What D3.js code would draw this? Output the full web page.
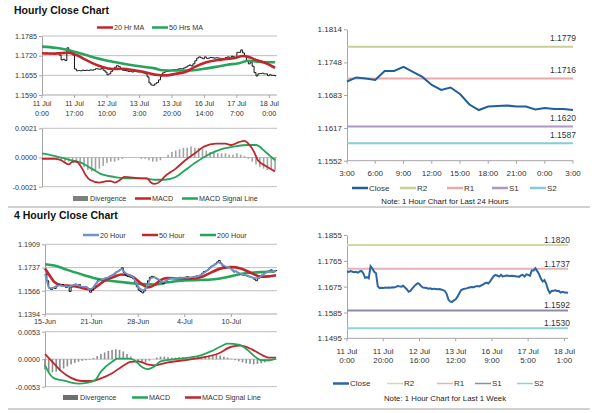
<!DOCTYPE html>
<html>
<head>
<meta charset="utf-8">
<script src="https://cdn.jsdelivr.net/npm/d3@7"></script>
<style>
  body { margin: 0; background: #fff; }
  svg { font-family: "Liberation Sans", Arial, sans-serif; }
  .axis path, .axis line { stroke: #a6a6a6; }
  .axis text { fill: #333; }
</style>
</head>
<body>
<div id="chart"></div>
<script>
// hourly close, 11 Jul 0:00 -> 18 Jul 3:00 (one value per hour bar)
var hourlyClose = [
  1.1728,1.1726,1.1729,1.1727,1.1725,1.1727,1.1724,1.1728,1.1730,1.1722,
  1.1706,1.1708,1.1704,1.1746,1.1738,1.1727,1.1722,1.1676,1.1670,1.1671,
  1.1670,1.1672,1.1671,1.1672,1.1671,1.1673,1.1672,1.1674,1.1677,1.1676,
  1.1675,1.1678,1.1672,1.1666,1.1657,1.1660,1.1668,1.1676,1.1682,1.1687,
  1.1684,1.1676,1.1672,1.1671,1.1670,1.1668,1.1669,1.1666,1.1668,1.1667,
  1.1666,1.1667,1.1665,1.1663,1.1660,1.1650,1.1630,1.1623,1.1622,1.1627,
  1.1631,1.1640,1.1652,1.1663,1.1666,1.1668,1.1669,1.1671,1.1673,1.1674,
  1.1673,1.1676,1.1677,1.1676,1.1679,1.1682,1.1686,1.1689,1.1686,1.1693,
  1.1703,1.1712,1.1716,1.1713,1.1710,1.1716,1.1711,1.1712,1.1714,1.1713,
  1.1712,1.1713,1.1712,1.1711,1.1710,1.1709,1.1714,1.1716,1.1710,1.1718,
  1.1716,1.1713,1.1731,1.1731,1.1739,1.1729,1.1719,1.1703,1.1693,1.1698,
  1.1685,1.1664,1.1653,1.1660,1.1661,1.1662,1.1660,1.1660,1.1654,1.1657,
  1.1655,1.1655,1.1653
];
var hourlyTicks = [0, 17, 34, 51, 68, 85, 102, 119];
var hourlyTickLabels = [["11 Jul","0:00"],["11 Jul","17:00"],["12 Jul","10:00"],["13 Jul","3:00"],
                        ["13 Jul","20:00"],["16 Jul","14:00"],["17 Jul","7:00"],["18 Jul","0:00"]];
// moving averages read at [bar, value]
var ma20Hr = [[0,1.1728],[7,1.1727],[14,1.1730],[18,1.1722],[23,1.1706],[31,1.1684],[37,1.1676],
              [42,1.1677],[49,1.1671],[54,1.1665],[61,1.1656],[65,1.1655],[70,1.1660],[75,1.1666],
              [80,1.1683],[86,1.1698],[94,1.1707],[101,1.1712],[105,1.1719],[108,1.1716],
              [112,1.1706],[117,1.1696],[122,1.1680]];
var ma50Hr = [[0,1.1750],[7,1.1746],[14,1.1738],[23,1.1722],[31,1.1708],[42,1.1694],[52,1.1684],
              [59,1.1678],[63,1.1672],[70,1.1671],[77,1.1671],[84,1.1676],[91,1.1683],[97,1.1690],
              [103,1.1695],[108,1.1703],[113,1.1700],[122,1.1698]];
var hourlyMacd = [[0,-0.0001],[7,-0.0001],[10,-0.0002],[14,-0.0005],[16,-0.0003],[18,-0.0003],
                  [21,-0.0008],[23,-0.0013],[25,-0.0016],[30,-0.0018],[34,-0.0017],[36,-0.0017],
                  [38,-0.0018],[41,-0.0016],[43,-0.0014],[52,-0.0015],[55,-0.0015],[57,-0.0018],
                  [59,-0.0019],[62,-0.0017],[64,-0.0014],[70,-0.0008],[75,-0.0002],[80,0.0003],
                  [85,0.0008],[91,0.0010],[96,0.0010],[99,0.0009],[103,0.0011],[106,0.0012],
                  [108,0.0010],[111,0.0004],[113,-0.0002],[117,-0.0006],[122,-0.0010]];
var hourlySignal = [[0,0.0003],[7,0.0001],[14,-0.00015],[21,-0.0004],[26,-0.0008],[31,-0.0012],
                    [38,-0.0014],[44,-0.0015],[54,-0.0015],[59,-0.0016],[64,-0.0016],[70,-0.0014],
                    [75,-0.0009],[80,-0.0004],[87,0.0002],[94,0.0006],[101,0.0008],[108,0.0009],
                    [112,0.0009],[117,0.0004],[122,-0.0002]];
// divergence, every second bar
var hourlyDivergence = [
  0.0000,-0.0001,-0.0001,-0.0001,-0.0002,-0.0002,-0.0003,-0.0003,-0.0004,-0.0004,
  -0.0005,-0.0007,-0.0009,-0.0010,-0.0009,-0.0008,-0.0006,-0.0004,-0.0003,-0.0003,
  -0.0002,-0.0001,0.0000,0.0000,0.0000,0.0000,-0.0001,-0.0001,-0.0002,-0.0003,
  -0.0003,-0.0002,0.0000,0.0002,0.0004,0.0005,0.0006,0.0007,0.0007,0.0008,
  0.0007,0.0007,0.0006,0.0005,0.0004,0.0004,0.0003,0.0003,0.0003,0.0002,
  0.0002,0.0003,0.0002,0.0001,-0.0001,-0.0003,-0.0005,-0.0007,-0.0008,-0.0009,
  -0.0009,-0.0009
];

// last 24 hours chart
var dayTickLabels = ["3:00","6:00","9:00","12:00","15:00","18:00","21:00","0:00","3:00"];
var dayLevelNames = ["R2","R1","S1","S2"];
var dayLevels = [1.1779, 1.1716, 1.1620, 1.1587];

// 4 hourly close, 15-Jun -> 16-Jul
var close4h = [
  1.1690,1.1640,1.1585,1.1575,1.1590,1.1582,1.1600,1.1610,1.1605,1.1612,
  1.1598,1.1590,1.1600,1.1560,1.1595,1.1610,1.1615,1.1605,1.1612,1.1595,
  1.1590,1.1598,1.1592,1.1580,1.1555,1.1570,1.1600,1.1620,1.1640,1.1648,
  1.1645,1.1652,1.1660,1.1658,1.1665,1.1678,1.1684,1.1690,1.1705,1.1712,
  1.1722,1.1735,1.1700,1.1680,1.1672,1.1668,1.1665,1.1655,1.1630,1.1595,
  1.1570,1.1560,1.1550,1.1565,1.1600,1.1640,1.1665,1.1672,1.1668,1.1660,
  1.1650,1.1640,1.1630,1.1618,1.1635,1.1645,1.1652,1.1658,1.1662,1.1660,
  1.1658,1.1662,1.1665,1.1663,1.1660,1.1665,1.1670,1.1665,1.1662,1.1668,
  1.1672,1.1675,1.1670,1.1680,1.1695,1.1708,1.1712,1.1720,1.1735,1.1748,
  1.1755,1.1765,1.1778,1.1790,1.1770,1.1750,1.1742,1.1745,1.1738,1.1735,
  1.1720,1.1705,1.1710,1.1700,1.1690,1.1685,1.1680,1.1682,1.1675,1.1670,
  1.1665,1.1662,1.1650,1.1640,1.1655,1.1670,1.1682,1.1690,1.1700,1.1708,
  1.1712,1.1720,1.1705,1.1712,1.1715
];
var ticks4h = [0, 25, 50, 75, 100];
var tickLabels4h = ["15-Jun","21-Jun","28-Jun","4-Jul","10-Jul"];
var ma20Hour = [[0,1.1690],[1,1.1640],[2,1.1590],[4,1.1585],[6,1.1600],[8,1.1605],[10,1.1600],
                [12,1.1598],[14,1.1600],[16,1.1610],[18,1.1605],[20,1.1595],[22,1.1595],[24,1.1575],
                [26,1.1590],[28,1.1630],[30,1.1645],[32,1.1655],[34,1.1665],[36,1.1680],[38,1.1700],
                [40,1.1715],[41,1.1725],[43,1.1700],[45,1.1680],[47,1.1668],[49,1.1620],[51,1.1580],
                [53,1.1570],[55,1.1610],[57,1.1660],[59,1.1665],[61,1.1650],[63,1.1630],[65,1.1640],
                [67,1.1655],[70,1.1660],[74,1.1662],[78,1.1665],[82,1.1672],[84,1.1685],[86,1.1705],
                [88,1.1725],[90,1.1748],[92,1.1765],[93,1.1775],[95,1.1760],[97,1.1745],[99,1.1738],
                [101,1.1715],[103,1.1705],[105,1.1690],[108,1.1680],[110,1.1670],[112,1.1660],
                [114,1.1658],[116,1.1675],[118,1.1695],[120,1.1708],[122,1.1710],[124,1.1712]];
var ma50Hour = [[0,1.1730],[3,1.1668],[5,1.1631],[9,1.1607],[14,1.1602],[18,1.1594],[21,1.1582],
                [25,1.1574],[28,1.1600],[32,1.1640],[37,1.1668],[41,1.1686],[45,1.1681],[48,1.1660],
                [52,1.1615],[55,1.1590],[59,1.1610],[62,1.1645],[66,1.1660],[71,1.1656],[78,1.1655],
                [84,1.1668],[89,1.1700],[95,1.1733],[100,1.1740],[105,1.1730],[111,1.1695],
                [116,1.1670],[120,1.1672],[124,1.1681]];
var ma200Hour = [[0,1.1762],[5,1.1752],[12,1.1720],[21,1.1681],[29,1.1650],[37,1.1636],[45,1.1624],
                 [52,1.1615],[59,1.1612],[66,1.1628],[75,1.1642],[84,1.1645],[92,1.1652],[98,1.1668],
                 [105,1.1690],[112,1.1700],[119,1.1706],[124,1.1712]];
var macd4h = [[0,-0.0012],[3,-0.0031],[5,-0.0037],[11,-0.0042],[14,-0.0045],[18,-0.0047],[23,-0.0045],
              [27,-0.0040],[30,-0.0024],[36,-0.0005],[39,0.0001],[45,0.0001],[48,-0.0002],[52,-0.0015],
              [55,-0.0019],[59,-0.0013],[62,-0.0004],[70,0.0000],[77,0.0003],[84,0.0008],[89,0.0015],
              [95,0.0026],[98,0.0030],[104,0.0028],[109,0.0017],[113,0.0004],[116,-0.0002],
              [120,-0.0002],[124,0.0001]];
var signal4h = [[0,0.0010],[4,-0.0005],[9,-0.0024],[14,-0.0036],[20,-0.0042],[25,-0.0042],[30,-0.0037],
                [36,-0.0027],[41,-0.0015],[46,-0.0005],[50,-0.0004],[55,-0.0010],[59,-0.0012],
                [66,-0.0006],[75,-0.0002],[84,0.0003],[93,0.0011],[100,0.0024],[105,0.0026],
                [111,0.0019],[116,0.0009],[120,0.0003],[124,0.0003]];
var divergence4h = [
  -0.0020,-0.0024,-0.0025,-0.0024,-0.0022,-0.0018,-0.0014,-0.0010,-0.0007,-0.0005,
  -0.0003,-0.0002,-0.0001,0.0002,0.0006,0.0010,0.0013,0.0016,0.0018,0.0019,
  0.0018,0.0015,0.0010,0.0005,0.0000,-0.0004,-0.0006,-0.0006,-0.0003,0.0000,
  0.0003,0.0005,0.0005,0.0004,0.0003,0.0003,0.0004,0.0004,0.0003,0.0003,
  0.0004,0.0005,0.0005,0.0006,0.0007,0.0008,0.0008,0.0007,0.0005,0.0003,
  0.0001,-0.0002,-0.0004,-0.0006,-0.0008,-0.0009,-0.0010,-0.0009,-0.0008,-0.0006,
  -0.0004,-0.0002,0.0000
];

// last 1 week chart (same hourly bars)
var weekTicks = [0, 20, 40, 60, 80, 100, 120];
var weekTickLabels = [["11 Jul","0:00"],["11 Jul","20:00"],["12 Jul","16:00"],["13 Jul","12:00"],
                      ["16 Jul","9:00"],["17 Jul","5:00"],["18 Jul","1:00"]];
var weekLevelNames = ["R2","R1","S1","S2"];
var weekLevels = [1.1820, 1.1737, 1.1592, 1.1530];

var RED = "#c0262c", GREEN = "#25a55b", BLUE = "#1f5f9e";

var svg = d3.select("#chart").append("svg")
    .attr("width", 600)
    .attr("height", 413);

// ---------- helpers
function yAxis(y, ticks, x0, fmt, fs) {
    var g = svg.append("g")
        .attr("class", "axis")
        .attr("transform", "translate(" + x0 + ",0)")
        .call(d3.axisLeft(y).tickValues(ticks).tickSize(3).tickSizeOuter(0).tickPadding(2).tickFormat(fmt));
    g.selectAll("text").style("font-size", fs + "px");
}

function xAxis(x, y0, ticks, labels, fs, gap, base) {
    var r = x.range();
    svg.append("line")
        .attr("x1", r[0]).attr("x2", r[1]).attr("y1", y0).attr("y2", y0)
        .attr("stroke", "#a6a6a6");
    svg.append("g").selectAll("line")
        .data(ticks).join("line")
        .attr("x1", function(d) { return x(d) }).attr("x2", function(d) { return x(d) })
        .attr("y1", y0).attr("y2", y0 + 3)
        .attr("stroke", "#a6a6a6");
    var t = svg.append("g").selectAll("text")
        .data(ticks).join("text")
        .attr("x", function(d) { return x(d) })
        .attr("y", base)
        .attr("text-anchor", "middle")
        .attr("fill", "#333")
        .style("font-size", fs + "px");
    t.each(function(d, i) {
        var lab = labels[i];
        if (typeof lab === "string") { d3.select(this).text(lab); return; }
        lab.forEach(function(s, k) {
            d3.select(this).append("tspan").attr("x", x(d)).attr("dy", k ? gap : 0).text(s);
        }, this);
    });
}

function grid(y, values, x0, x1) {
    svg.append("g").selectAll("line")
        .data(values).join("line")
        .attr("x1", x0).attr("x2", x1)
        .attr("y1", function(d) { return y(d) }).attr("y2", function(d) { return y(d) })
        .attr("stroke", "#bfbfbf");
}

function pairLine(pairs, x, y, color, w) {
    svg.append("path")
        .datum(pairs)
        .attr("d", d3.line().x(function(d) { return x(d[0]) }).y(function(d) { return y(d[1]) }).curve(d3.curveMonotoneX))
        .attr("fill", "none")
        .attr("stroke", color)
        .attr("stroke-width", w)
        .attr("stroke-linejoin", "round");
}

// OHLC-like bars: open = previous close
function priceBars(close, x, y) {
    svg.append("g").selectAll("path")
        .data(close.slice(1)).join("path")
        .attr("d", function(c, i) {
            var o = close[i], xi = x(i + 1);
            return "M" + (xi - 1) + "," + y(o) + "H" + xi + "V" + y(c) + "H" + (xi + 1);
        })
        .attr("fill", "none")
        .attr("stroke", "#111")
        .attr("stroke-width", 1);
}

function histo(values, step, x, y, color) {
    svg.append("g").selectAll("rect")
        .data(values).join("rect")
        .attr("x", function(d, i) { return x(i * step) - 0.8 })
        .attr("width", 1.6)
        .attr("y", function(d) { return Math.min(y(d), y(0)) })
        .attr("height", function(d) { return Math.abs(y(d) - y(0)) })
        .attr("fill", color);
}

function legend(items, cy, fs) {
    var g = svg.append("g").style("font-size", fs + "px");
    items.forEach(function(it) {
        if (it.box) {
            g.append("rect").attr("x", it.x).attr("y", cy - 2.5).attr("width", 15).attr("height", 5).attr("fill", it.color);
        } else {
            g.append("line").attr("x1", it.x).attr("x2", it.x + 16).attr("y1", cy).attr("y2", cy)
                .attr("stroke", it.color).attr("stroke-width", it.w || 2.5);
        }
        g.append("text").attr("x", it.x + 17).attr("y", cy).attr("dy", "0.35em").attr("fill", "#333").text(it.label);
    });
}

function title(txt, y) {
    svg.append("text").attr("x", 14).attr("y", y)
        .style("font-size", "10.5px").style("font-weight", "bold").attr("fill", "#111").text(txt);
}

var fmt4 = function(d) { return d.toFixed(4) };

// ---------- Hourly Close Chart
title("Hourly Close Chart", 13.5);
legend([{x: 97, color: RED, label: "20 Hr MA"}, {x: 152, color: GREEN, label: "50 Hrs MA"}], 27.5, 7.2);

var xH = d3.scaleLinear().domain([0, 123]).range([42, 277]);
var yH = d3.scaleLinear().domain([1.1590, 1.1785]).range([95, 36]);
grid(yH, [1.1785, 1.1720, 1.1655], 42, 277);
yAxis(yH, [1.1590, 1.1655, 1.1720, 1.1785], 42, fmt4, 7.2);
xAxis(xH, 95, hourlyTicks, hourlyTickLabels, 7.2, 10, 105.5);
priceBars(hourlyClose, xH, yH);
pairLine(ma50Hr, xH, yH, GREEN, 2.6);
pairLine(ma20Hr, xH, yH, RED, 2.6);

// hourly MACD
var yM = d3.scaleLinear().domain([-0.0021, 0.0021]).range([186.7, 128.3]);
grid(yM, [0.0021, 0, -0.0021], 42, 277);
yAxis(yM, [-0.0021, 0, 0.0021], 42, fmt4, 7.2);
histo(hourlyDivergence, 2, xH, yM, "#a3a3a3");
pairLine(hourlySignal, xH, yM, GREEN, 1.8);
pairLine(hourlyMacd, xH, yM, RED, 1.8);
legend([{x: 73, box: true, color: "#7f7f7f", label: "Divergence"},
        {x: 135, color: RED, label: "MACD"},
        {x: 182, color: GREEN, label: "MACD Signal Line"}], 198.5, 7.2);

// ---------- Last 24 hours
var dayClose = hourlyClose.slice(hourlyClose.length - 25);
var xD = d3.scaleLinear().domain([0, 24]).range([347, 573]);
var yD = d3.scaleLinear().domain([1.1552, 1.1814]).range([160.7, 29.3]);
var dayColors = ["#c9cd96", "#e8a9a9", "#ad97c8", "#86ccd8"];
yAxis(yD, [1.1552, 1.1617, 1.1683, 1.1748, 1.1814], 347, fmt4, 8);
xAxis(xD, 160.7, d3.range(0, 25, 3), dayTickLabels, 8, 0, 176);
svg.append("g").selectAll("line")
    .data(dayLevels).join("line")
    .attr("x1", 347).attr("x2", 573)
    .attr("y1", function(d) { return yD(d) }).attr("y2", function(d) { return yD(d) })
    .attr("stroke", function(d, i) { return dayColors[i] })
    .attr("stroke-width", 2);
svg.append("g").selectAll("text")
    .data(dayLevels).join("text")
    .attr("x", 576).attr("y", function(d) { return yD(d) - 5.5 })
    .attr("text-anchor", "end").attr("fill", "#333")
    .style("font-size", "8.5px")
    .text(function(d) { return d.toFixed(4) });
svg.append("path")
    .datum(dayClose)
    .attr("d", d3.line().x(function(d, i) { return xD(i) }).y(function(d) { return yD(d) }))
    .attr("fill", "none").attr("stroke", BLUE).attr("stroke-width", 2);
legend([{x: 352, color: BLUE, label: "Close"}].concat(dayLevelNames.map(function(n, i) {
    return {x: [400, 447, 492, 530][i], color: dayColors[i], label: n};
})), 188, 8);
svg.append("text").attr("x", 445).attr("y", 204).attr("text-anchor", "middle")
    .attr("fill", "#222").style("font-size", "7.8px")
    .text("Note: 1 Hour Chart for Last 24 Hours");

// separators
svg.append("g").selectAll("line")
    .data([207, 409]).join("line")
    .attr("x1", 8).attr("x2", 590).attr("y1", function(d) { return d }).attr("y2", function(d) { return d })
    .attr("stroke", "#a0a0a0");

// ---------- 4 Hourly Close Chart
title("4 Hourly Close Chart", 219);
legend([{x: 83, color: "#6f93c6", label: "20 Hour"},
        {x: 142, color: RED, label: "50 Hour"},
        {x: 200, color: GREEN, label: "200 Hour"}], 235, 7.2);

var x4 = d3.scaleLinear().domain([0, 124.5]).range([45, 277]);
var y4 = d3.scaleLinear().domain([1.1394, 1.1909]).range([314, 244.3]);
grid(y4, [1.1909, 1.1737, 1.1566], 45, 277);
yAxis(y4, [1.1394, 1.1566, 1.1737, 1.1909], 45, fmt4, 7.2);
xAxis(x4, 314, ticks4h, tickLabels4h, 7.2, 0, 323.5);
pairLine(ma200Hour, x4, y4, GREEN, 2.6);
pairLine(ma50Hour, x4, y4, RED, 2.6);
priceBars(close4h, x4, y4);
pairLine(ma20Hour, x4, y4, "#6f93c6", 1.8);

// 4 hourly MACD
var yM4 = d3.scaleLinear().domain([-0.0053, 0.0053]).range([386.7, 331.7]);
grid(yM4, [0.0053, 0, -0.0053], 45, 277);
yAxis(yM4, [-0.0053, 0, 0.0053], 45, fmt4, 7.2);
histo(divergence4h, 2, x4, yM4, "#8c8c8c");
pairLine(signal4h, x4, yM4, RED, 1.8);
pairLine(macd4h, x4, yM4, GREEN, 1.8);
legend([{x: 63, box: true, color: "#6f6f6f", label: "Divergence"},
        {x: 132, color: GREEN, label: "MACD"},
        {x: 185, color: RED, label: "MACD Signal Line"}], 397.5, 7.2);

// ---------- Last 1 week
var xW = d3.scaleLinear().domain([0, 122]).range([347, 568]);
var yW = d3.scaleLinear().domain([1.1495, 1.1855]).range([338.3, 235]);
var weekColors = ["#d4d8ac", "#e5b3b3", "#8e8ca9", "#8dd3df"];
yAxis(yW, d3.range(5).map(function(k) { return 1.1495 + k * 0.009 }), 347, fmt4, 8);
xAxis(xW, 338.3, weekTicks, weekTickLabels, 8, 8.5, 354);
svg.append("g").selectAll("line")
    .data(weekLevels).join("line")
    .attr("x1", 347).attr("x2", 568)
    .attr("y1", function(d) { return yW(d) }).attr("y2", function(d) { return yW(d) })
    .attr("stroke", function(d, i) { return weekColors[i] })
    .attr("stroke-width", 2);
svg.append("g").selectAll("text")
    .data(weekLevels).join("text")
    .attr("x", 570).attr("y", function(d) { return yW(d) - 2 })
    .attr("text-anchor", "end").attr("fill", "#333")
    .style("font-size", "8.5px")
    .text(function(d) { return d.toFixed(4) });
svg.append("path")
    .datum(hourlyClose)
    .attr("d", d3.line().x(function(d, i) { return xW(i) }).y(function(d) { return yW(d) }))
    .attr("fill", "none").attr("stroke", "#2a66a3").attr("stroke-width", 2);
legend([{x: 333, color: "#2a66a3", label: "Close"}].concat(weekLevelNames.map(function(n, i) {
    return {x: [387, 437, 475, 517][i], color: weekColors[i], label: n, w: 1.5};
})), 383.5, 8);
svg.append("text").attr("x", 445).attr("y", 401).attr("text-anchor", "middle")
    .attr("fill", "#222").style("font-size", "7.8px")
    .text("Note: 1 Hour Chart for Last 1 Week");
</script>
</body>
</html>
